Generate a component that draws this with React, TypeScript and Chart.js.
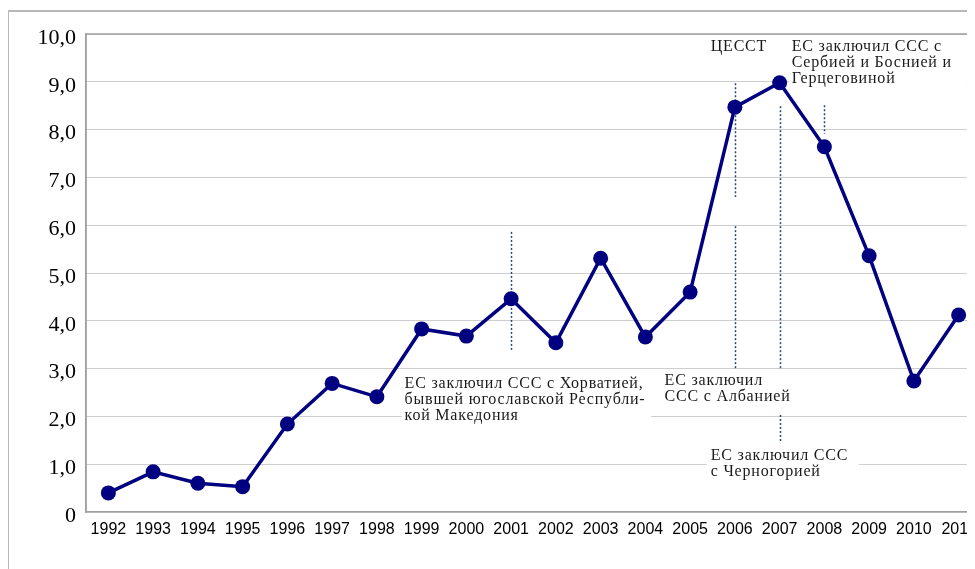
import React, { useEffect, useRef } from "react";
import { Chart, registerables } from "chart.js";

Chart.register(...registerables);

const years = ["1992","1993","1994","1995","1996","1997","1998","1999","2000","2001","2002","2003","2004","2005","2006","2007","2008","2009","2010","2011"];
const values = [0.40, 0.84, 0.60, 0.53, 1.84, 2.69, 2.41, 3.83, 3.68, 4.46, 3.54, 5.31, 3.66, 4.60, 8.47, 8.98, 7.64, 5.36, 2.74, 4.12];
const yTickLabels = ["0","1,0","2,0","3,0","4,0","5,0","6,0","7,0","8,0","9,0","10,0"];

// Text notes: x in category-index units, y = baseline of first line in value units
const noteTexts = [
  { x: 6.62, y: 2.594, lines: ["ЕС заключил ССС с Хорватией,", "бывшей югославской Республи-", "кой Македония"] },
  { x: 12.43, y: 2.657, lines: ["ЕС заключил", "ССС с Албанией"] },
  { x: 13.46, y: 1.088, lines: ["ЕС заключил ССС", "с Черногорией"] },
  { x: 13.46, y: 9.644, lines: ["ЦЕССТ"] },
  { x: 15.27, y: 9.644, lines: ["ЕС заключил ССС с", "Сербией и Боснией и", "Герцеговиной"] },
];
// white backgrounds behind notes: [x0, x1, yTop, yBottom]
const noteBoxes = [
  [6.56, 12.13, 2.93, 1.90],
  [13.37, 16.77, 1.40, 0.69],
  [15.22, 19.18, 9.92, 8.85],
];
// dotted markers: [category index, yFrom, yTo]
const markerLines = [
  [9, 5.86, 3.37],
  [14, 8.97, 6.59],
  [14, 5.98, 2.99],
  [15, 8.49, 2.97],
  [15, 2.03, 1.44],
  [16, 8.51, 7.91],
];

const notesPlugin = {
  id: "notes",
  beforeDatasetsDraw(chart: any) {
    const { ctx, chartArea } = chart;
    const xs = chart.scales.x;
    const ys = chart.scales.y;
    ctx.save();
    // solid plot borders (top, left)
    ctx.strokeStyle = "#a0a0a0";
    ctx.lineWidth = 1.5;
    ctx.setLineDash([]);
    ctx.beginPath();
    ctx.moveTo(chartArea.left, chartArea.top);
    ctx.lineTo(chartArea.right, chartArea.top);
    ctx.moveTo(chartArea.left, chartArea.top);
    ctx.lineTo(chartArea.left, chartArea.bottom);
    ctx.stroke();
    // boxes
    ctx.fillStyle = "#ffffff";
    for (const b of noteBoxes) {
      const x0 = xs.getPixelForValue(b[0]);
      const x1 = xs.getPixelForValue(b[1]);
      const y0 = ys.getPixelForValue(b[2]);
      const y1 = ys.getPixelForValue(b[3]);
      ctx.fillRect(x0, y0, x1 - x0, y1 - y0);
    }
    // dotted markers
    ctx.strokeStyle = "#1f4a7c";
    ctx.lineWidth = 1.5;
    ctx.setLineDash([2, 2]);
    for (const m of markerLines) {
      const px = Math.round(xs.getPixelForValue(m[0])) + 0.5;
      ctx.beginPath();
      ctx.moveTo(px, ys.getPixelForValue(m[1]));
      ctx.lineTo(px, ys.getPixelForValue(m[2]));
      ctx.stroke();
    }
    ctx.setLineDash([]);
    // texts
    ctx.fillStyle = "#1a1a1a";
    ctx.font = '16px "Liberation Serif"';
    (ctx as any).letterSpacing = "0.8px";
    ctx.textAlign = "left";
    ctx.textBaseline = "alphabetic";
    for (const n of noteTexts) {
      const px = xs.getPixelForValue(n.x);
      const py = ys.getPixelForValue(n.y);
      n.lines.forEach((l, i) => ctx.fillText(l, px, py + i * 16));
    }
    (ctx as any).letterSpacing = "0px";
    ctx.restore();
  },
};

export default function App() {
  const ref = useRef<HTMLCanvasElement>(null);
  useEffect(() => {
    document.documentElement.style.overflow = "hidden";
    const chart = new Chart(ref.current as HTMLCanvasElement, {
      type: "line",
      data: {
        labels: years,
        datasets: [
          {
            data: values,
            borderColor: "#000080",
            backgroundColor: "#000080",
            borderWidth: 3.5,
            pointRadius: 7.5,
            pointBackgroundColor: "#000080",
            pointBorderColor: "#000080",
            pointBorderWidth: 0,
            tension: 0,
          },
        ],
      },
      options: {
        responsive: false,
        maintainAspectRatio: false,
        animation: false,
        devicePixelRatio: 1,
        layout: { autoPadding: false, padding: { top: 26, left: 0, right: 0, bottom: 0 } },
        plugins: { legend: { display: false }, tooltip: { enabled: false } },
        scales: {
          x: {
            type: "category",
            offset: true,
            grid: { display: false, drawTicks: false },
            border: { display: true, color: "#a0a0a0", width: 1.5 },
            ticks: {
              font: { family: "Liberation Sans", size: 16 },
              color: "#000",
              padding: 8,
              maxRotation: 0,
              autoSkip: false,
            },
            afterFit: (s: any) => { s.height = 57; s.paddingLeft = 0; s.paddingRight = 0; },
          },
          y: {
            min: 0,
            max: 10,
            grid: { color: "#9c9c9c", lineWidth: 1, drawTicks: false },
            border: { display: true, color: "#a0a0a0", width: 1.5, dash: [1, 1] },
            ticks: {
              stepSize: 1,
              font: { family: "Liberation Serif", size: 22 },
              color: "#000",
              padding: 10,
              labelOffset: 4,
              callback: (_v: any, i: number) => yTickLabels[i],
            },
            afterFit: (s: any) => { s.width = 78; },
          },
        },
      },
      plugins: [notesPlugin],
    });
    return () => chart.destroy();
  }, []);
  return (
    <div style={{ position: "relative", width: 973, height: 561 }}>
      <div
        style={{
          position: "absolute",
          top: 2,
          left: 0,
          width: "100%",
          height: "100%",
          borderTop: "2px solid #b8b8b8",
          borderLeft: "1px solid #b8b8b8",
          boxSizing: "border-box",
        }}
      />
      <canvas
        ref={ref}
        width={973}
        height={561}
        style={{ position: "absolute", top: 0, left: 0, display: "block", width: "973px", height: "561px" }}
      />
    </div>
  );
}
